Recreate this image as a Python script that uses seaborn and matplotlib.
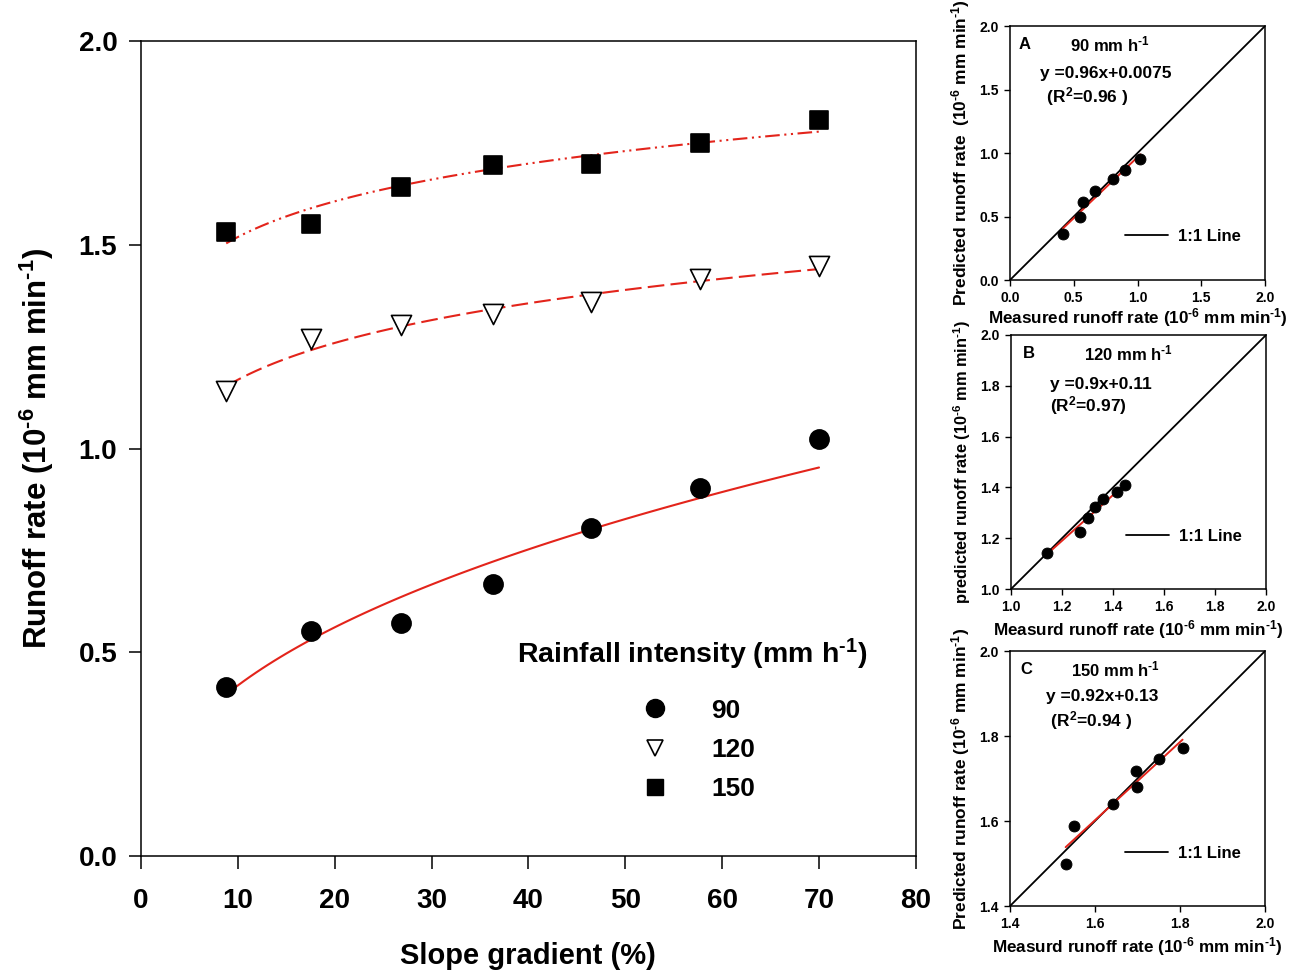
import matplotlib
matplotlib.use("Agg")

import matplotlib.pyplot as plt
import numpy as np
import pandas as pd
import seaborn as sns
from matplotlib.lines import Line2D

# ---------------------------------------------------------------
# Data
# ---------------------------------------------------------------
slope = [8.8, 17.6, 26.8, 36.3, 46.5, 57.7, 70.0]

runoff_90 = [0.415, 0.552, 0.572, 0.667, 0.805, 0.903, 1.023]
runoff_120 = [1.141, 1.269, 1.303, 1.330, 1.360, 1.416, 1.448]
runoff_150 = [1.531, 1.551, 1.642, 1.696, 1.698, 1.750, 1.806]

pred_90 = [0.359, 0.498, 0.611, 0.702, 0.794, 0.870, 0.954]
pred_120 = [1.142, 1.224, 1.278, 1.321, 1.354, 1.381, 1.409]
pred_150 = [1.500, 1.588, 1.640, 1.717, 1.680, 1.746, 1.771]

intensities = ["90", "120", "150"]
fit_slopes = [0.96, 0.9, 0.92]
fit_intercepts = [0.0075, 0.11, 0.13]
fit_eq_text = ["y =0.96x+0.0075", "y =0.9x+0.11", "y =0.92x+0.13"]
fit_r2_text = [r" (R$^2$=0.96 )", r"(R$^2$=0.97)", r" (R$^2$=0.94 )"]
panel_ids = ["A", "B", "C"]

main_xticks = [0, 10, 20, 30, 40, 50, 60, 70, 80]
main_yticks = [0.0, 0.5, 1.0, 1.5, 2.0]
panel_ticks = [
    [0.0, 0.5, 1.0, 1.5, 2.0],
    [1.0, 1.2, 1.4, 1.6, 1.8, 2.0],
    [1.4, 1.6, 1.8, 2.0],
]

# ---------------------------------------------------------------
# Style
# ---------------------------------------------------------------
sns.set_theme(style="white")
plt.rcParams.update({
    "font.family": ["Liberation Sans", "DejaVu Sans"],
    "font.weight": "bold",
    "axes.labelweight": "bold",
    "axes.edgecolor": "black",
    "axes.linewidth": 1.1,
    "text.color": "black",
    "axes.labelcolor": "black",
    "xtick.color": "black",
    "ytick.color": "black",
    "mathtext.fontset": "custom",
    "mathtext.rm": "Liberation Sans:bold",
    "mathtext.bf": "Liberation Sans:bold",
    "mathtext.it": "Liberation Sans:bold",
    "mathtext.default": "rm",
})
RED = "#e3241b"
UNIT = r"(10$^{\text{-}6}$ mm min$^{\text{-}1}$)"

fig = plt.figure(figsize=(12.98, 9.71), dpi=100)

# ---------------------------------------------------------------
# Main panel
# ---------------------------------------------------------------
ax = fig.add_axes([0.1086, 0.1184, 0.597, 0.8393])

markers = ["o", "v", "s"]
facecols = ["black", "white", "black"]
dashes = [None, (0, (8, 3)), (0, (7, 2.2, 1, 2.2, 1, 2.2))]
sizes = [190, 210, 170]
series = [runoff_90, runoff_120, runoff_150]

xs_fit = np.linspace(min(slope), max(slope), 100)
for vals, mk, fc, dash, lab, sz in zip(series, markers, facecols, dashes,
                                       intensities, sizes):
    # power fit y = a * x^b
    b, lna = np.polyfit(np.log(slope), np.log(vals), 1)
    fit_df = pd.DataFrame({"x": xs_fit, "y": np.exp(lna) * xs_fit ** b})
    sns.lineplot(data=fit_df, x="x", y="y", color=RED, lw=1.5, ax=ax,
                 legend=False)
    if dash is not None:
        ax.lines[-1].set_linestyle(dash)

    df = pd.DataFrame({"x": slope, "y": vals})
    sns.scatterplot(data=df, x="x", y="y", marker=mk, s=sz, color=fc,
                    edgecolor="black", linewidth=1.2, ax=ax, label=lab,
                    zorder=5)

ax.set_xlim(0, 80)
ax.set_ylim(0, 2.0)
ax.set_xticks(main_xticks)
ax.set_yticks(main_yticks)
ax.set_yticklabels([f"{v:.1f}" for v in main_yticks])
ax.tick_params(axis="x", direction="out", length=9, width=1.1, labelsize=20,
               pad=14, bottom=True)
ax.tick_params(axis="y", direction="out", length=9, width=1.1, labelsize=20,
               pad=8, left=True)
for lbl in ax.get_xticklabels() + ax.get_yticklabels():
    lbl.set_fontweight("bold")
ax.set_xlabel("Slope gradient (%)", fontsize=21, fontweight="bold",
              labelpad=20)
ax.set_ylabel("Runoff rate " + UNIT, fontsize=22.5, fontweight="bold",
              labelpad=16)

handles = [
    Line2D([], [], marker="o", ls="none", color="black", markersize=13),
    Line2D([], [], marker="v", ls="none", markerfacecolor="white",
           markeredgecolor="black", markersize=12, markeredgewidth=1.2),
    Line2D([], [], marker="s", ls="none", color="black", markersize=11),
]
leg = ax.legend(handles, intensities,
                title=r"Rainfall intensity (mm h$^{\text{-}1}$)",
                loc="upper center", bbox_to_anchor=(0.711, 0.285),
                frameon=False, prop={"size": 19, "weight": "bold"},
                title_fontproperties={"size": 20.5, "weight": "bold"},
                labelspacing=0.58, handletextpad=1.1, borderpad=0)
leg._legend_box.sep = 19

# ---------------------------------------------------------------
# Small panels: predicted vs measured
# ---------------------------------------------------------------
panel_rects = [
    [0.7781, 0.7116, 0.1965, 0.2616],
    [0.7789, 0.3934, 0.1965, 0.2616],
    [0.7781, 0.0669, 0.1965, 0.2626],
]
measured = [runoff_90, runoff_120, runoff_150]
predicted = [pred_90, pred_120, pred_150]
ylabels = [
    "Predicted runoff rate  " + UNIT,
    "predicted runoff rate " + UNIT,
    "Predicted runoff rate " + UNIT,
]
xlabels = [
    "Measured runoff rate " + UNIT,
    "Measurd runoff rate " + UNIT,
    "Measurd runoff rate " + UNIT,
]
ylabel_size = [12.5, 11.8, 12.5]
xlabel_pad = [0.5, 3, 3]
title_x = [0.235, 0.286, 0.238]
id_x = [0.035, 0.048, 0.039]
eq_pos = [(0.118, 0.815, 0.124, 0.721),
          (0.153, 0.807, 0.153, 0.721),
          (0.141, 0.823, 0.141, 0.729)]
leg_y = [0.173, 0.207, 0.205]

for i in range(3):
    pax = fig.add_axes(panel_rects[i])
    lo, hi = panel_ticks[i][0], panel_ticks[i][-1]

    one_df = pd.DataFrame({"x": [lo, hi], "y": [lo, hi]})
    sns.lineplot(data=one_df, x="x", y="y", color="black", lw=1.3, ax=pax,
                 label="1:1 Line")

    mx = np.array([min(measured[i]), max(measured[i])])
    reg_df = pd.DataFrame({"x": mx, "y": fit_slopes[i] * mx + fit_intercepts[i]})
    sns.lineplot(data=reg_df, x="x", y="y", color=RED, lw=1.4, ax=pax,
                 legend=False)

    pts = pd.DataFrame({"x": measured[i], "y": predicted[i]})
    sns.scatterplot(data=pts, x="x", y="y", s=62, color="black",
                    edgecolor="black", ax=pax, zorder=5, legend=False)

    pax.set_xlim(lo, hi)
    pax.set_ylim(lo, hi)
    pax.set_xticks(panel_ticks[i])
    pax.set_yticks(panel_ticks[i])
    pax.set_xticklabels([f"{v:.1f}" for v in panel_ticks[i]])
    pax.set_yticklabels([f"{v:.1f}" for v in panel_ticks[i]])
    pax.tick_params(direction="out", length=4, width=1, labelsize=10,
                    pad=4, bottom=True, left=True)
    for lbl in pax.get_xticklabels() + pax.get_yticklabels():
        lbl.set_fontweight("bold")
    pax.set_xlabel(xlabels[i], fontsize=12.3, fontweight="bold",
                   labelpad=xlabel_pad[i])
    pax.set_ylabel(ylabels[i], fontsize=ylabel_size[i], fontweight="bold",
                   labelpad=5)

    pax.text(id_x[i], 0.927, panel_ids[i], transform=pax.transAxes,
             fontsize=12, fontweight="bold", va="center")
    pax.text(title_x[i], 0.927, intensities[i] + r" mm h$^{\text{-}1}$",
             transform=pax.transAxes, fontsize=12, fontweight="bold",
             va="center")
    ex, ey, rx, ry = eq_pos[i]
    pax.text(ex, ey, fit_eq_text[i], transform=pax.transAxes,
             fontsize=12.5, fontweight="bold", va="center")
    pax.text(rx, ry, fit_r2_text[i], transform=pax.transAxes,
             fontsize=12.5, fontweight="bold", va="center")

    pax.legend(loc="center left", bbox_to_anchor=(0.45, leg_y[i]),
               frameon=False, prop={"size": 12, "weight": "bold"},
               handlelength=2.6, handletextpad=0.6, borderpad=0,
               borderaxespad=0)

fig.savefig("out.png", dpi=100, facecolor="white")
